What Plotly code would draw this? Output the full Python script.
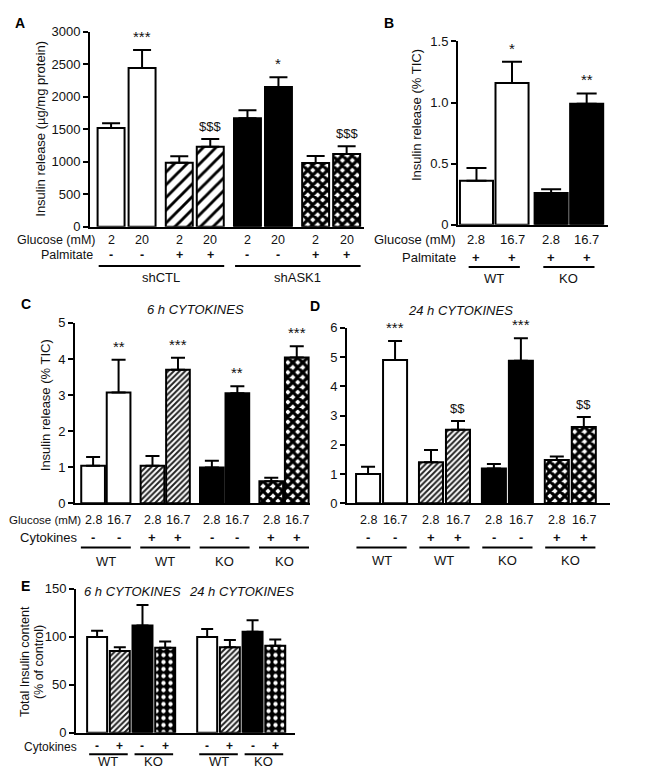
import plotly.graph_objects as go

W, H = 666, 768
FONT = "Liberation Sans, Arial, sans-serif"

# ---------------- DATA ----------------
# Panel A
a_glucose = ["2", "20", "2", "20", "2", "20", "2", "20"]
a_palm = ["-", "-", "+", "+", "-", "-", "+", "+"]
a_groups = ["shCTL", "shASK1"]
a_means = [1520, 2440, 985, 1230, 1670, 2150, 980, 1120]
a_errtop = [1590, 2720, 1085, 1350, 1790, 2300, 1090, 1240]
a_sig = ["", "***", "", "$$$", "", "*", "", "$$$"]
a_ticks = [0, 500, 1000, 1500, 2000, 2500, 3000]

# Panel B
b_glucose = ["2.8", "16.7", "2.8", "16.7"]
b_palm = ["+", "+", "+", "+"]
b_groups = ["WT", "KO"]
b_means = [0.36, 1.16, 0.26, 0.99]
b_errtop = [0.465, 1.335, 0.29, 1.075]
b_sig = ["", "*", "", "**"]
b_ticks = [0, 0.5, 1.0, 1.5]
b_ticktext = ["0", "0.5", "1.0", "1.5"]

# Panel C (6 h cytokines)
c_glucose = ["2.8", "16.7"] * 4
c_cyto = ["-", "-", "+", "+", "-", "-", "+", "+"]
c_groups = ["WT", "WT", "KO", "KO"]
c_means = [1.04, 3.07, 1.04, 3.70, 0.99, 3.05, 0.61, 4.04]
c_errtop = [1.28, 3.98, 1.31, 4.03, 1.18, 3.24, 0.71, 4.35]
c_sig = ["", "**", "", "***", "", "**", "", "***"]
c_ticks = [0, 1, 2, 3, 4, 5]

# Panel D (24 h cytokines)
d_glucose = ["2.8", "16.7"] * 4
d_cyto = ["-", "-", "+", "+", "-", "-", "+", "+"]
d_groups = ["WT", "WT", "KO", "KO"]
d_means = [1.00, 4.90, 1.40, 2.51, 1.19, 4.87, 1.48, 2.61]
d_errtop = [1.25, 5.55, 1.82, 2.81, 1.34, 5.64, 1.60, 2.95]
d_sig = ["", "***", "", "$$", "", "***", "", "$$"]
d_ticks = [0, 1, 2, 3, 4, 5, 6]

# Panel E (total insulin content)
e_cyto = ["-", "+", "-", "+", "-", "+", "-", "+"]
e_groups = ["WT", "KO", "WT", "KO"]
e_titles = ["6 h CYTOKINES", "24 h CYTOKINES"]
e_means = [99.5, 85, 111.5, 88.5, 99.5, 89, 105, 90.5]
e_errtop = [106, 89, 133, 95, 108, 96.5, 117, 97]
e_ticks = [0, 50, 100, 150]

# ---------------- STYLES ----------------
WHITE = dict(color="white")
BLACK = dict(color="black")
HATCH_WIDE = dict(color="white", pattern=dict(shape="/", fillmode="replace", fgcolor="black",
                                                bgcolor="white", size=9, solidity=0.32))
HATCH_FINE = dict(color="white", pattern=dict(shape="/", fillmode="replace", fgcolor="#222222",
                                                bgcolor="white", size=4, solidity=0.5))
CROSS = dict(color="white", pattern=dict(shape="x", fillmode="replace", fgcolor="black",
                                           bgcolor="white", size=7, solidity=0.72))
DOTS = dict(color="black", pattern=dict(shape=".", fillmode="replace", fgcolor="white",
                                          bgcolor="black", size=7, solidity=0.3))

a_styles = [WHITE, WHITE, HATCH_WIDE, HATCH_WIDE, BLACK, BLACK, CROSS, CROSS]
b_styles = [WHITE, WHITE, BLACK, BLACK]
cd_styles = [WHITE, WHITE, HATCH_FINE, HATCH_FINE, BLACK, BLACK, CROSS, CROSS]
e_styles = [WHITE, HATCH_FINE, BLACK, DOTS] * 2

TXT = "#111"


def px(x):
    return x / W


def py(y):
    return 1 - y / H


fig = go.Figure()
annotations = []
shapes = []


def positions(n, pergroup, gap):
    return [i + gap * (i // pergroup) for i in range(n)]


def add_panel(idx, xdom, ydom, xrange, yrange, ticks, ticktext, pos, means, errtop,
              styles, width, errw):
    xa = "xaxis" if idx == 1 else f"xaxis{idx}"
    ya = "yaxis" if idx == 1 else f"yaxis{idx}"
    xr = "x" if idx == 1 else f"x{idx}"
    yr = "y" if idx == 1 else f"y{idx}"
    for p, m, e, st in zip(pos, means, errtop, styles):
        marker = dict(st)
        marker["line"] = dict(color="black", width=2)
        fig.add_trace(go.Bar(
            x=[p], y=[m], width=width, marker=marker, xaxis=xr, yaxis=yr,
            showlegend=False, hoverinfo="skip",
            error_y=dict(type="data", symmetric=False, array=[e - m], arrayminus=[0],
                         color="black", thickness=2, width=errw),
        ))
    fig.layout[xa] = dict(domain=[px(xdom[0]), px(xdom[1])], range=list(xrange),
                          anchor=yr, showline=True, linewidth=2, linecolor="black",
                          showticklabels=False, ticks="", showgrid=False, zeroline=False,
                          fixedrange=True)
    fig.layout[ya] = dict(domain=[py(ydom[1]), py(ydom[0])], range=list(yrange),
                          anchor=xr, showline=True, linewidth=2, linecolor="black",
                          ticks="outside", tickwidth=2, ticklen=5, tickcolor="black",
                          tickvals=ticks, ticktext=ticktext,
                          tickfont=dict(family=FONT, size=13, color=TXT),
                          showgrid=False, zeroline=False, fixedrange=True)
    return xr, yr


def row_labels(xr, pos, labels, ypx, size=13, bold=False):
    for p, t in zip(pos, labels):
        if bold:
            t = f"<b>{t}</b>"
        annotations.append(dict(x=p, y=py(ypx), xref=xr, yref="paper", text=t,
                                showarrow=False, font=dict(family=FONT, size=size, color=TXT),
                                xanchor="center", yanchor="middle", borderpad=0))


def row_title(text, xpx, ypx, size=13, anchor="right"):
    annotations.append(dict(x=px(xpx), y=py(ypx), xref="paper", yref="paper", text=text,
                            showarrow=False, font=dict(family=FONT, size=size, color=TXT),
                            xanchor=anchor, yanchor="middle", borderpad=0))


def underline(xr, x0, x1, ypx):
    shapes.append(dict(type="line", xref=xr, yref="paper", x0=x0, x1=x1,
                       y0=py(ypx), y1=py(ypx), line=dict(color="black", width=2)))


def group_labels(xr, centers, labels, ypx, size=13):
    for c, t in zip(centers, labels):
        annotations.append(dict(x=c, y=py(ypx), xref=xr, yref="paper", text=t,
                                showarrow=False, font=dict(family=FONT, size=size, color=TXT),
                                xanchor="center", yanchor="middle", borderpad=0))


def sig_labels(xr, yr, pos, errtop, sig):
    for p, e, s in zip(pos, errtop, sig):
        if s:
            sz = 15 if "*" in s else 13
            annotations.append(dict(x=p, y=e, xref=xr, yref=yr, text=s, showarrow=False,
                                    font=dict(family=FONT, size=sz, color=TXT),
                                    xanchor="center", yanchor="bottom", yshift=3))


def ytitle(text, xpx, ypx, size=13):
    annotations.append(dict(x=px(xpx), y=py(ypx), xref="paper", yref="paper", text=text,
                            showarrow=False, textangle=-90,
                            font=dict(family=FONT, size=size, color=TXT),
                            xanchor="center", yanchor="middle"))


def letter(text, xpx, ypx):
    annotations.append(dict(x=px(xpx), y=py(ypx), xref="paper", yref="paper",
                            text=f"<b>{text}</b>", showarrow=False,
                            font=dict(family=FONT, size=14, color="black"),
                            xanchor="left", yanchor="middle"))


def italic_title(text, xpx, ypx):
    annotations.append(dict(x=px(xpx), y=py(ypx), xref="paper", yref="paper",
                            text=f"<i>{text}</i>", showarrow=False,
                            font=dict(family=FONT, size=13, color=TXT),
                            xanchor="center", yanchor="middle"))


# ---------------- PANEL A ----------------
a_pos = positions(8, 2, 0.2)
xr, yr = add_panel(1, (82, 356), (17, 216), (-0.68, 8.16), (0, 3000), a_ticks,
                   [str(t) for t in a_ticks], a_pos, a_means, a_errtop, a_styles, 0.87, 9)
row_labels(xr, a_pos, a_glucose, 229, size=12.5)
row_labels(xr, a_pos, a_palm, 245, size=12.5, bold=True)
row_title("Glucose (mM)", 88, 229, size=12.5)
row_title("Palmitate", 86, 245, size=12.5)
for g in range(2):
    c = (a_pos[4 * g] + a_pos[4 * g + 3]) / 2
    underline(xr, c - 2.0, c + 2.05, 256)
    group_labels(xr, [c], [a_groups[g]], 268)
sig_labels(xr, yr, a_pos, a_errtop, a_sig)
ytitle("Insulin release (µg/mg protein)", 33, 116)
letter("A", 5, 8)

# ---------------- PANEL B ----------------
b_pos = positions(4, 2, 0.1)
xr, yr = add_panel(2, (450, 600), (27, 214), (-0.52, 3.7), (0, 1.5), b_ticks, b_ticktext,
                   b_pos, b_means, b_errtop, b_styles, 0.93, 10)
row_labels(xr, b_pos, b_glucose, 229)
row_labels(xr, b_pos, b_palm, 247, bold=True)
row_title("Glucose (mM)", 449, 229)
row_title("Palmitate", 449, 247)
for g in range(2):
    c = (b_pos[2 * g] + b_pos[2 * g + 1]) / 2
    underline(xr, c - 0.72, c + 0.72, 257)
    group_labels(xr, [c], [b_groups[g]], 269)
sig_labels(xr, yr, b_pos, b_errtop, b_sig)
ytitle("Insulin release (% TIC)", 408, 102)
letter("B", 374, 8)

# ---------------- PANEL C ----------------
c_pos = positions(8, 2, 0.33)
xr, yr = add_panel(3, (67, 302), (314, 498), (-0.71, 8.51), (0, 5), c_ticks,
                   [str(t) for t in c_ticks], c_pos, c_means, c_errtop, cd_styles, 0.93, 7)
row_labels(xr, c_pos, c_glucose, 515, size=12.5)
row_labels(xr, c_pos, c_cyto, 533, bold=True)
row_title("Glucose (mM)", 0, 515, size=11.5, anchor="left")
row_title("Cytokines", 71, 533)
for g in range(4):
    c = (c_pos[2 * g] + c_pos[2 * g + 1]) / 2
    underline(xr, c - 0.98, c + 0.98, 543)
    group_labels(xr, [c], [c_groups[g]], 557)
sig_labels(xr, yr, c_pos, c_errtop, c_sig)
ytitle("Insulin release (% TIC)", 37, 398)
letter("C", 11, 295)
italic_title("6 h CYTOKINES", 187, 300)

# ---------------- PANEL D ----------------
d_pos = positions(8, 2, 0.33)
xr, yr = add_panel(4, (339, 602), (319, 498), (-0.78, 8.96), (0, 6), d_ticks,
                   [str(t) for t in d_ticks], d_pos, d_means, d_errtop, cd_styles, 0.89, 7)
row_labels(xr, d_pos, d_glucose, 515, size=12.5)
row_labels(xr, d_pos, d_cyto, 533, bold=True)
for g in range(4):
    c = (d_pos[2 * g] + d_pos[2 * g + 1]) / 2
    underline(xr, c - 0.93, c + 0.93, 543)
    group_labels(xr, [c], [d_groups[g]], 556)
sig_labels(xr, yr, d_pos, d_errtop, d_sig)
letter("D", 300, 297)
italic_title("24 h CYTOKINES", 452, 301)

# ---------------- PANEL E ----------------
e_pos = [i + 0.85 * (i // 4) for i in range(8)]
xr, yr = add_panel(5, (68, 287), (585, 732), (-0.93, 8.72), (0, 150), e_ticks,
                   [str(t) for t in e_ticks], e_pos, e_means, e_errtop, e_styles, 0.88, 6)
row_labels(xr, e_pos, e_cyto, 746, size=12, bold=True)
row_title("Cytokines", 70, 747, size=12)
for g in range(4):
    c = (e_pos[2 * g] + e_pos[2 * g + 1]) / 2
    underline(xr, c - 0.85, c + 0.85, 754)
    group_labels(xr, [c], [e_groups[g]], 761)
ytitle("Total Insulin content", 17, 660, size=12.5)
ytitle("(% of control)", 31, 660, size=12.5)
letter("E", 11, 582)
italic_title(e_titles[0], 125, 588)
italic_title(e_titles[1], 233, 588)

fig.update_layout(
    width=W, height=H, margin=dict(l=0, r=0, t=0, b=0),
    paper_bgcolor="white", plot_bgcolor="white",
    annotations=annotations, shapes=shapes, barmode="overlay",
    font=dict(family=FONT, size=13, color=TXT),
)
fig.write_html("out.html")
